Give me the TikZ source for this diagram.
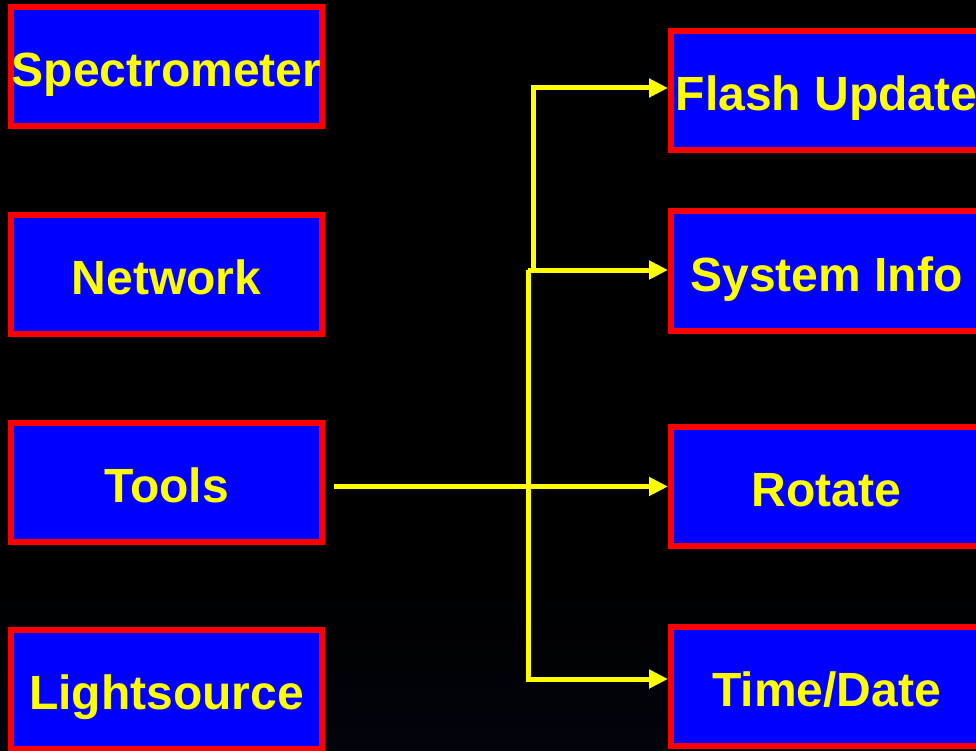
\documentclass[tikz,border=0pt]{standalone}
\usepackage{fontspec}
\setmainfont{Liberation Sans}
\usetikzlibrary{arrows.meta}
\definecolor{menublue}{RGB}{0,0,255}
\definecolor{menured}{RGB}{255,0,0}
\definecolor{menuyellow}{RGB}{255,255,0}
\definecolor{nightblue}{RGB}{2,4,12}

\begin{document}
\begin{tikzpicture}[x=1pt,y=-1pt,
    menu/.style={draw=menured,fill=menublue,line width=6pt,
      minimum width=311pt,minimum height=119pt,inner sep=0pt,
      text=menuyellow,text height=40pt,text depth=0pt,
      font=\fontsize{48}{56}\selectfont\bfseries},
    link/.style={draw=menuyellow,line width=5pt,
      -{Triangle[length=19pt,width=18pt]}}]
  \useasboundingbox (0,0) rectangle (976,751);
  \clip (0,0) rectangle (976,751);
  \fill[black] (0,0) rectangle (976,751);
  \shade[top color=black,bottom color=nightblue] (0,580) rectangle (976,751);

  % main menu
  \node[menu] (spectro) at (166.5,66.5)  {Spectrometer};
  \node[menu] (network) at (166.5,274.5) {Network};
  \node[menu] (tools)   at (166.5,482.5) {Tools};
  \node[menu] (light)   at (166.5,689)   {Lightsource};

  % tools menu
  \node[menu] (flash)   at (826.5,90.5)  {Flash Update};
  \node[menu] (sysinfo) at (826.5,271)   {System Info};
  \node[menu] (rotate)  at (826.5,486.5) {Rotate};
  \node[menu] (timedate) at (826.5,686.5) {Time/Date};

  \coordinate (forktop) at (533,88);
  \coordinate (forkup)  at (533,270);
  \coordinate (forkmid) at (528,270);
  \coordinate (forkbot) at (528,679);

  \draw[link] ([xshift=9pt]tools.east |- rotate.west) -- (rotate.west);
  \draw[link] (forkup) -- (forktop) -- (flash.west |- forktop);
  \draw[link] (forkmid) -- (sysinfo.west |- forkmid);
  \draw[link] (forkmid) -- (forkbot) -- (timedate.west |- forkbot);
\end{tikzpicture}
\end{document}
